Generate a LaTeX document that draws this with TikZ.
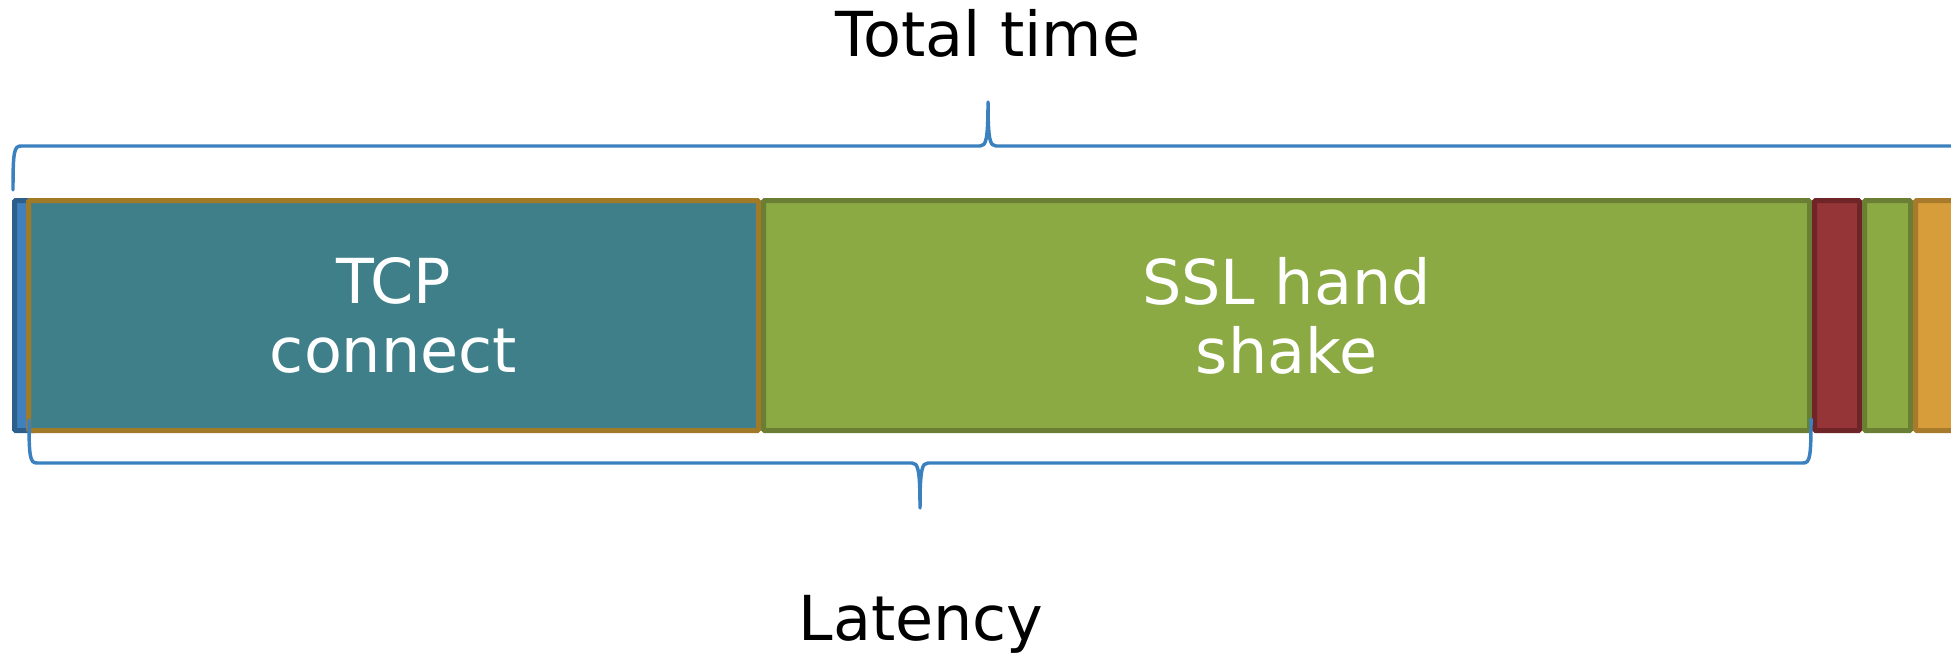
\documentclass[tikz,border=0pt]{standalone}
\usepackage{fontspec}
\setmainfont{DejaVu Sans}
\definecolor{bluefill}{HTML}{3F80BD}
\definecolor{blueedge}{HTML}{2C5F8C}
\definecolor{tealfill}{HTML}{3F7F8A}
\definecolor{brownedge}{HTML}{A17A28}
\definecolor{greenfill}{HTML}{8BAA44}
\definecolor{greenedge}{HTML}{6B7F34}
\definecolor{redfill}{HTML}{963537}
\definecolor{rededge}{HTML}{6F2527}
\definecolor{orangefill}{HTML}{D79D3A}
\definecolor{orangeedge}{HTML}{A87A2B}
\definecolor{bracecol}{HTML}{3B80BF}
\begin{document}
\begin{tikzpicture}[x=0.75pt,y=-0.75pt,
  bar/.style={rectangle, anchor=north west, outer sep=0pt, inner sep=0pt,
    line width=3.75pt, rounded corners=0.8pt, minimum height=172.5pt,
    text=white, align=center, font=\fontsize{46.5}{51.75}\selectfont},
  lbl/.style={anchor=base, inner sep=0pt, font=\fontsize{46.5}{54}\selectfont},
  brace/.style={draw=bracecol, line width=2.6pt, line cap=round, line join=round}]
\useasboundingbox (0,0) rectangle (1951,656);
\clip (0,0) rectangle (1951,656);
% bars
\node[bar, draw=blueedge, fill=bluefill, minimum width=15pt] (blue) at (14.5,200.5) {};
\node[bar, draw=brownedge, fill=tealfill, minimum width=547.5pt] (tcp) at (28.5,200.5) {TCP\\connect};
\node[bar, draw=greenedge, fill=greenfill, minimum width=784.5pt] (ssl) at (763.5,200.5) {SSL hand\\shake};
\node[bar, draw=rededge, fill=redfill, minimum width=33.75pt] (red) at (1814.5,200.5) {};
\node[bar, draw=greenedge, fill=greenfill, minimum width=34.5pt] (green2) at (1864.5,200.5) {};
\node[bar, draw=orangeedge, fill=orangefill, minimum width=60pt] (orange) at (1915.5,200.5) {};
% labels
\node[lbl] (total) at (988,57) {Total time};
\node[lbl] (latency) at (921,640) {Latency};
% top brace
\coordinate (tl) at (13,190);
\coordinate (tt) at (988,102);
\coordinate (tr) at (1963,190);
\draw[brace] (tl) .. controls (13,152) and (14,146) .. (21,146)
  -- (980,146) .. controls (986,146) and (988,140) .. (tt)
  .. controls (988,140) and (990,146) .. (996,146)
  -- (1955,146) .. controls (1962,146) and (1963,152) .. (tr);
% bottom brace
\coordinate (bl) at (29,420);
\coordinate (bt) at (920,508);
\coordinate (br) at (1811,419);
\draw[brace] (bl) .. controls (29,457) and (30,463) .. (37,463)
  -- (912,463) .. controls (918,463) and (920,469) .. (bt)
  .. controls (920,469) and (922,463) .. (928,463)
  -- (1803,463) .. controls (1810,463) and (1811,457) .. (br);
\end{tikzpicture}
\end{document}
